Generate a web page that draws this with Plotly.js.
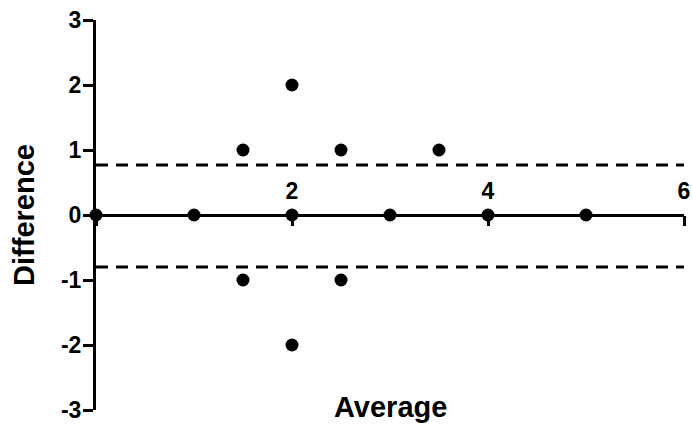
<!DOCTYPE html>
<html>
<head>
<meta charset="utf-8">
<script src="https://cdn.plot.ly/plotly-3.0.1.min.js"></script>
<style>html,body{margin:0;padding:0;background:#fff;}#chart{width:692px;height:434px;}</style>
</head>
<body>
<div id="chart"></div>
<script>
// Data (Bland-Altman)
const averages    = [0, 1, 1.5, 1.5, 2, 2, 2, 2.5, 2.5, 3, 3.5, 4, 5];
const differences = [0, 0, 1, -1, 2, 0, -2, 1, -1, 0, 1, 0, 0];
const upperLimit = 0.77;
const lowerLimit = -0.80;
const xLimits = [0, 6];
const xTickVals = [0, 2, 4, 6];
const xTickText = ['', '2', '4', '6'];
const yTickVals = [-3, -2, -1, 0, 1, 2, 3];
const yTickText = ['-3', '-2', '-1', '0', '1', '2', '3'];

const FONT = 'Arial, "Liberation Sans", Helvetica, sans-serif';

const traces = [
  {
    x: xLimits, y: [upperLimit, upperLimit], mode: 'lines', type: 'scatter',
    line: {color: '#000', width: 3, dash: '12px,8px'}, hoverinfo: 'skip', cliponaxis: false
  },
  {
    x: xLimits, y: [lowerLimit, lowerLimit], mode: 'lines', type: 'scatter',
    line: {color: '#000', width: 3, dash: '12px,8px'}, hoverinfo: 'skip', cliponaxis: false
  },
  {
    x: averages, y: differences, mode: 'markers', type: 'scatter',
    marker: {color: '#000', size: 13}, cliponaxis: false
  },
  // invisible helper so the tick-mark axis (x2) is drawn
  {
    x: xLimits, y: [0, 0], xaxis: 'x2', mode: 'lines', type: 'scatter',
    line: {color: 'rgba(0,0,0,0)', width: 0}, hoverinfo: 'skip'
  }
];

const layout = {
  width: 692, height: 434,
  margin: {l: 96, r: 8, t: 20, b: 24},
  paper_bgcolor: '#fff', plot_bgcolor: '#fff',
  showlegend: false,
  font: {family: FONT, color: '#000'},
  xaxis: {
    range: [0, 6], anchor: 'free', position: 0.5, side: 'top',
    tickvals: xTickVals, ticktext: xTickText,
    ticks: '', ticklabelstandoff: 6,
    tickfont: {family: FONT, size: 23, color: '#000', weight: 'bold'},
    showline: true, linewidth: 3, linecolor: '#000',
    showgrid: false, zeroline: false
  },
  xaxis2: {
    range: [0, 6], anchor: 'free', position: 0.5, side: 'bottom', overlaying: 'x',
    tickvals: xTickVals, showticklabels: false,
    ticks: 'outside', ticklen: 10, tickwidth: 3, tickcolor: '#000',
    showline: false, showgrid: false, zeroline: false
  },
  yaxis: {
    range: [-3, 3], tickvals: yTickVals, ticktext: yTickText,
    ticks: 'outside', ticklen: 10, tickwidth: 3, tickcolor: '#000',
    ticklabelstandoff: -3,
    tickfont: {family: FONT, size: 23, color: '#000', weight: 'bold'},
    showline: true, linewidth: 3, linecolor: '#000',
    showgrid: false, zeroline: false,
    title: {text: 'Difference', font: {family: FONT, size: 29, color: '#000', weight: 'bold'}, standoff: 18}
  },
  annotations: [{
    text: 'Average', xref: 'paper', yref: 'paper', x: 0.5, y: 0, yshift: 3,
    xanchor: 'center', yanchor: 'middle', showarrow: false,
    font: {family: FONT, size: 29, color: '#000', weight: 'bold'}
  }]
};

Plotly.newPlot('chart', traces, layout, {displayModeBar: false, staticPlot: true});
</script>
</body>
</html>
